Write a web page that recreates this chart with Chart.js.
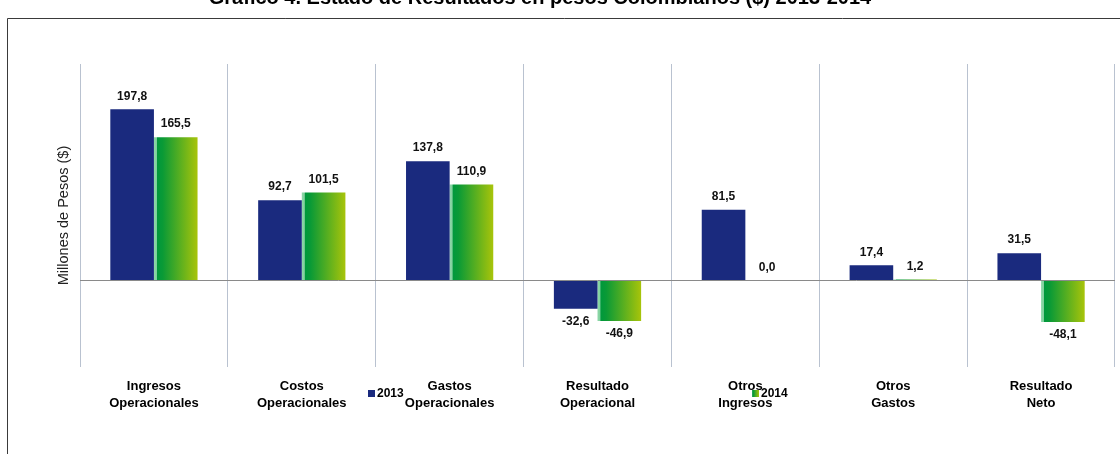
<!DOCTYPE html>
<html><head><meta charset="utf-8">
<script src="https://cdn.jsdelivr.net/npm/chart.js@4"></script>
<style>html,body{margin:0;padding:0;background:#fff}#wrap{position:relative;width:1120px;height:454px}</style>
</head><body><div id="wrap"><canvas id="c" width="1120" height="454"></canvas></div>
<script>
const chartTitle = 'Gráfico 4. Estado de Resultados en pesos Colombianos ($) 2013-2014';
const categories = [['Ingresos','Operacionales'],['Costos','Operacionales'],['Gastos','Operacionales'],['Resultado','Operacional'],['Otros','Ingresos'],['Otros','Gastos'],['Resultado','Neto']];
const seriesNames = ['2013','2014'];
const values2013 = [197.8, 92.7, 137.8, -32.6, 81.5, 17.4, 31.5];
const values2014 = [165.5, 101.5, 110.9, -46.9, 0.0, 1.2, -48.1];
const yMin = -100, yMax = 250, yStep = 50;
const yAxisTitle = 'Millones de Pesos ($)';

const FONT = "'Liberation Sans', Arial, sans-serif";
const NAVY = '#1a2a7e';
const CAT_PCT = 0.59;

function greenGrad(ctx, x0, x1){
  if (!isFinite(x0) || !isFinite(x1) || x1 <= x0) return '#4aa830';
  const g = ctx.createLinearGradient(x0, 0, x1, 0);
  g.addColorStop(0, '#8fd8aa');
  g.addColorStop(0.06, '#7fd09c');
  g.addColorStop(0.075, '#00983c');
  g.addColorStop(0.2, '#0a9a36');
  g.addColorStop(1, '#a8c40a');
  return g;
}

const decor = {
  id: 'decor',
  beforeDraw(chart){
    const ctx = chart.ctx;
    ctx.save();
    ctx.strokeStyle = '#3a3a3a';
    ctx.lineWidth = 1;
    ctx.beginPath();
    ctx.moveTo(7.5, 460); ctx.lineTo(7.5, 18.5); ctx.lineTo(1130, 18.5);
    ctx.stroke();
    ctx.fillStyle = '#000';
    ctx.font = 'bold 20px ' + FONT;
    ctx.textAlign = 'center';
    ctx.textBaseline = 'alphabetic';
    ctx.fillText(chartTitle, 540, 4);
    ctx.restore();
  },
  afterDatasetsDraw(chart){
    const ctx = chart.ctx;
    ctx.save();
    ctx.font = 'bold 12px ' + FONT;
    ctx.fillStyle = '#111';
    ctx.textAlign = 'center';
    ctx.textBaseline = 'middle';
    chart.data.datasets.forEach((ds, i) => {
      chart.getDatasetMeta(i).data.forEach((el, j) => {
        const v = ds.data[j];
        const txt = v.toFixed(1).replace('.', ',');
        const y = v >= 0 ? el.y - 13 : el.y + 13;
        ctx.fillText(txt, el.x, y);
      });
    });
    const items = [{x: 368, name: seriesNames[0], color: NAVY}, {x: 752, name: seriesNames[1], color: null}];
    ctx.textAlign = 'left';
    items.forEach(it => {
      ctx.fillStyle = it.color || greenGrad(ctx, it.x, it.x + 7);
      ctx.fillRect(it.x, 390, 7, 7);
      ctx.fillStyle = '#000';
      ctx.fillText(it.name, it.x + 9, 393.5);
    });
    ctx.restore();
  }
};

new Chart(document.getElementById('c'), {
  type: 'bar',
  data: {
    labels: categories,
    datasets: [
      {label: seriesNames[0], data: values2013, backgroundColor: NAVY, categoryPercentage: CAT_PCT, barPercentage: 1},
      {label: seriesNames[1], data: values2014, categoryPercentage: CAT_PCT, barPercentage: 1,
        backgroundColor: (c) => {
          const chart = c.chart, xs = chart.scales && chart.scales.x;
          if (c.type !== 'data' || !xs) return '#4aa830';
          const cw = xs.width / categories.length;
          const center = xs.getPixelForValue(c.dataIndex);
          return greenGrad(chart.ctx, center, center + cw * CAT_PCT / 2);
        }}
    ]
  },
  options: {
    responsive: false,
    animation: false,
    devicePixelRatio: 1,
    layout: {padding: {top: 64, right: 5, left: 0, bottom: 0}},
    plugins: {legend: {display: false}, tooltip: {enabled: false}},
    scales: {
      x: {
        grid: {color: '#b9c2d0', offset: true, drawTicks: false},
        border: {display: false},
        ticks: {color: '#000', font: {family: FONT, size: 13, weight: 'bold', lineHeight: 1.3}, padding: 11, maxRotation: 0, autoSkip: false},
        afterFit(s){ s.height = 87; }
      },
      y: {
        min: yMin, max: yMax,
        ticks: {display: false, stepSize: yStep},
        grid: {drawTicks: false, color: (c) => (c.tick && c.tick.value === 0) ? '#8a8a8a' : 'rgba(0,0,0,0)'},
        border: {display: false},
        title: {display: true, text: yAxisTitle, color: '#222', font: {family: FONT, size: 14.5}, padding: {top: 55, bottom: 0}},
        afterFit(s){ s.width = 80; }
      }
    }
  },
  plugins: [decor]
});
</script></body></html>
